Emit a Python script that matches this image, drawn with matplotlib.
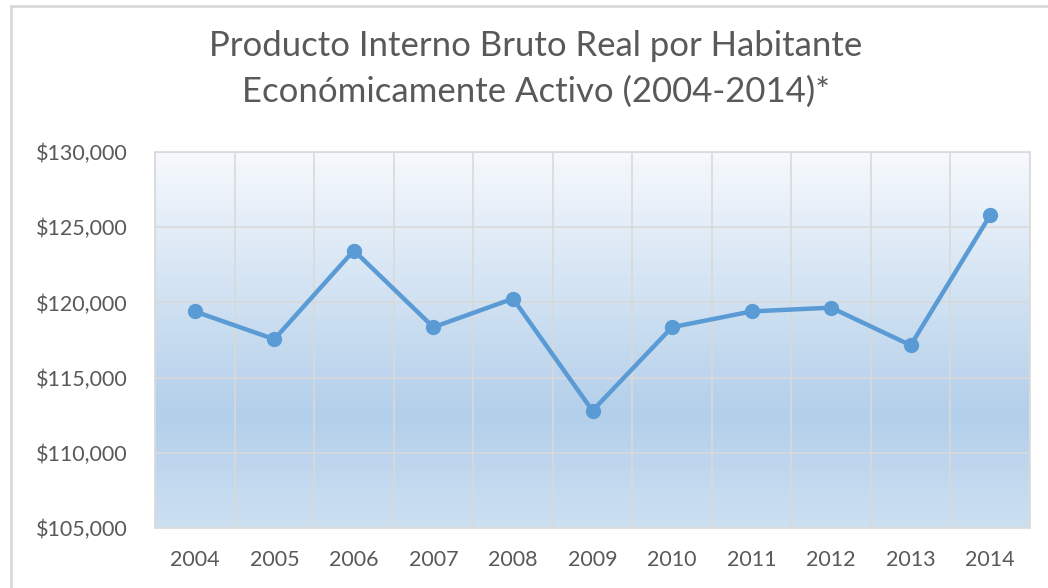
import numpy as np
import matplotlib.pyplot as plt
from matplotlib.colors import LinearSegmentedColormap
from matplotlib.ticker import FuncFormatter, MultipleLocator

plt.rcParams['font.family'] = ['Lato', 'DejaVu Sans']

# Datos
anios = ['2004', '2005', '2006', '2007', '2008', '2009', '2010', '2011', '2012', '2013', '2014']
pib = [119400, 117550, 123450, 118350, 120250, 112800, 118350, 119400, 119650, 117150, 125800]

fig = plt.figure(figsize=(10.48, 5.88), dpi=100)
ax = fig.add_axes([155 / 1048, 1 - 528 / 588, 875 / 1048, 376 / 588])

# fondo degradado del area de trazado
cmap = LinearSegmentedColormap.from_list(
    'fondo', [(0.0, '#cde0f2'), (0.3, '#b3cfea'), (1.0, '#f6f9fd')])
grad = np.linspace(0, 1, 256).reshape(-1, 1)
ax.imshow(grad, cmap=cmap, origin='lower', aspect='auto',
          extent=[0, 1, 0, 1], transform=ax.transAxes, zorder=0)

x = np.arange(len(anios))
ax.plot(x, pib, color='#5b9bd5', linewidth=3.2, marker='o', markersize=10,
        solid_capstyle='round', zorder=3)

ax.set_xlim(-0.5, len(anios) - 0.5)
ax.set_ylim(105000, 130000)
ax.yaxis.set_major_locator(MultipleLocator(5000))
ax.yaxis.set_major_formatter(FuncFormatter(lambda v, p: '${:,.0f}'.format(v)))
ax.set_xticks(x)
ax.set_xticklabels(anios)
ax.set_xticks(np.arange(-0.5, len(anios)), minor=True)

ax.grid(which='major', axis='y', color='#d9d9d9', linewidth=1.2, zorder=1)
ax.grid(which='minor', axis='x', color='#d9d9d9', linewidth=1.2, zorder=1)
ax.tick_params(which='both', length=0)
ax.tick_params(axis='y', pad=20, labelsize=15.5, labelcolor='#595959')
ax.tick_params(axis='x', pad=16, labelsize=15.5, labelcolor='#595959')
for s in ax.spines.values():
    s.set_color('#d9d9d9')
    s.set_linewidth(1.2)

fig.text(536 / 1048, 1 - 69 / 588,
         'Producto Interno Bruto Real por Habitante\nEconómicamente Activo (2004-2014)*',
         ha='center', va='center', fontsize=25, color='#595959', linespacing=1.5)

# marco del grafico
fig.add_artist(plt.Line2D([11 / 1048, 11 / 1048], [0, 1 - 6 / 588], color='#d9d9d9', linewidth=2))
fig.add_artist(plt.Line2D([11 / 1048, 1], [1 - 6 / 588, 1 - 6 / 588], color='#d9d9d9', linewidth=2))

fig.savefig('out.png', dpi=100)
